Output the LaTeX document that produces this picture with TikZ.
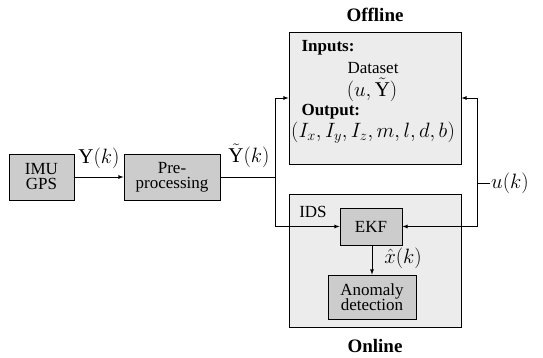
\documentclass[tikz,border=0pt]{standalone}
\usepackage{fontspec}
\setmainfont{Liberation Serif}
\usepackage{amsmath}
\usepackage{tikz}
\usetikzlibrary{arrows,calc}

\tikzset{
  blk/.style={draw, fill=gray!40, align=center, inner sep=1pt, line width=0.8pt},
  panel/.style={draw, fill=gray!15, line width=0.8pt},
  conn/.style={line width=0.8pt},
  mlbl/.style={font=\fontsize{21}{22}\selectfont, inner sep=1pt},
  head/.style={font=\fontsize{19}{20}\selectfont\bfseries},
}

\begin{document}
\begin{tikzpicture}[x=1pt, y=-1pt, >=latex, font=\fontsize{17}{18}\selectfont]
\useasboundingbox (0,0) rectangle (543,358);
% panels
\node[panel, minimum width=172, minimum height=132] (offline) at (375,98) {};
\node[panel, minimum width=172, minimum height=133] (online) at (375,260.5) {};
\node[head] (offlbl) at (375,15) {Offline};
\node[head] (onlbl) at (375,346) {Online};
% blocks
\node[blk, minimum width=65, minimum height=46] (imu) at (41.5,177) {IMU\\[-3pt]GPS};
\node[blk, minimum width=96, minimum height=46] (pre) at (172,177) {Pre-\\[-3pt]processing};
\node[blk, minimum width=62, minimum height=37] (ekf) at (371,226.5) {EKF};
\node[blk, minimum width=88, minimum height=44] (anom) at (372,297) {Anomaly\\[-3pt]detection};
% offline contents
\node[anchor=west, font=\fontsize{17}{18}\selectfont\bfseries] (inp) at (298,48) {Inputs:};
\node (data) at (373,68) {Dataset};
\node[mlbl] (uy) at (372,90) {$(u,\tilde{\mathrm{Y}})$};
\node[anchor=west, font=\fontsize{17}{18}\selectfont\bfseries] (outp) at (298,112) {Output:};
\node[font=\fontsize{20}{21}\selectfont, inner sep=0pt] (par) at (373,133) {$(I_x,I_y,I_z,m,l,d,b)$};
% labels
\node (ids) at (313,212) {IDS};
\node[mlbl] (yk) at (99,158) {$\mathrm{Y}(k)$};
\node[mlbl] (ytk) at (249,156) {$\tilde{\mathrm{Y}}(k)$};
\node[mlbl] (xk) at (403,258) {$\hat{x}(k)$};
\node[mlbl, anchor=west] (uk) at (490,183) {$u(k)$};
\coordinate (split) at (275,177);
\coordinate (ur) at (477,183);
% connectors
\draw[conn,->] (imu) -- (pre);
\draw[conn] (pre) -- (split);
\draw[conn,->] (split) |- (offline.west);
\draw[conn,->] (split) |- (ekf.west);
\draw[conn] (uk.west) -- (ur);
\draw[conn,->] (ur) |- (offline.east);
\draw[conn,->] (ur) |- (ekf.east);
\draw[conn,->] (ekf.south -| anom.north) -- (anom.north);
\end{tikzpicture}
\end{document}
